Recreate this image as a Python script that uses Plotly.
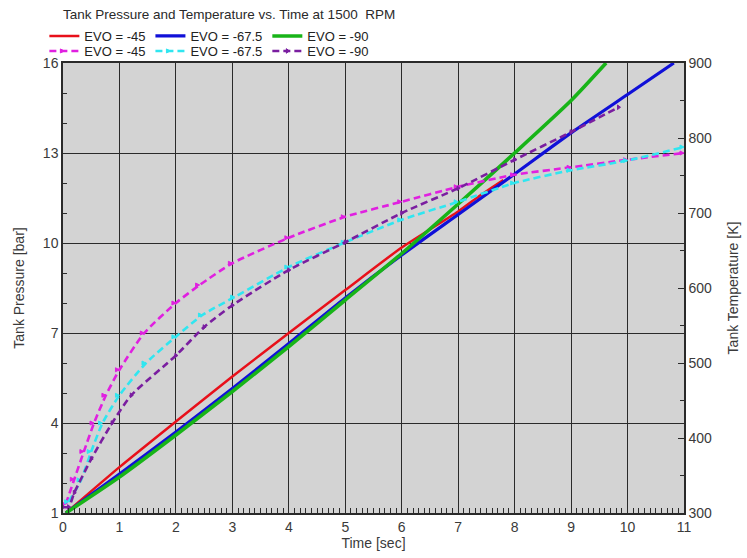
import plotly.graph_objects as go

# Tank pressure [bar] vs time [sec] for three exhaust valve opening angles
time_p45 = [0.05, 1, 2, 3, 4, 5, 6, 7, 7.4, 7.8]
pres_p45 = [1.0, 2.53, 4.05, 5.55, 7.0, 8.43, 9.85, 11.05, 11.6, 12.1]

time_p675 = [0.05, 1, 2, 3, 4, 5, 6, 7, 8, 9, 10, 10.82]
pres_p675 = [1.0, 2.3, 3.7, 5.15, 6.65, 8.17, 9.6, 10.95, 12.3, 13.67, 14.95, 16.0]

time_p90 = [0.05, 1, 2, 3, 4, 5, 6, 7, 8, 9, 9.62]
pres_p90 = [1.0, 2.2, 3.6, 5.05, 6.55, 8.1, 9.65, 11.3, 13.0, 14.75, 16.0]

# Tank temperature [K] vs time [sec]
time_t45 = [0.05, 0.2, 0.37, 0.55, 0.76, 1.0, 1.44, 2.0, 2.42, 3.0, 4, 5, 6, 7, 8, 9, 10, 11]
temp_t45 = [312, 345, 382, 420, 457, 491, 540, 580, 604, 633, 667, 695, 715, 735, 751, 761, 771, 780]

time_t675 = [0.1, 0.32, 0.5, 0.7, 1.0, 1.47, 2.0, 2.47, 3.04, 4, 5, 6, 7, 8, 9, 10, 11]
temp_t675 = [315, 344, 382, 420, 457, 500, 535, 564, 588, 628, 661, 691, 715, 740, 757, 770, 788]

time_t90 = [0.0, 0.1, 0.2, 0.5, 0.87, 1.21, 2.0, 2.5, 3.0, 4, 5, 6, 7, 8, 9, 9.84]
temp_t90 = [308, 308, 327, 372, 420, 457, 510, 548, 577, 624, 661, 700, 733, 771, 808, 841]

labels = ["EVO = -45", "EVO = -67.5", "EVO = -90"]
solid_colors = ["#e8101a", "#1010d8", "#18b418"]
dash_colors = ["#e020e0", "#30e6f0", "#7a1ea0"]
dash_symbols = ["arrow-right", "arrow-right", "triangle-right"]

fig = go.Figure()

pressure_sets = [(time_p45, pres_p45), (time_p675, pres_p675), (time_p90, pres_p90)]
widths = [2.5, 3.2, 3.6]
for (t, p), name, c, w in zip(pressure_sets, labels, solid_colors, widths):
    fig.add_trace(go.Scatter(
        x=t, y=p, name=name, mode="lines",
        line=dict(color=c, width=w, shape="spline", smoothing=0.6),
        legend="legend",
    ))

temp_sets = [(time_t45, temp_t45), (time_t675, temp_t675), (time_t90, temp_t90)]
for (t, T), name, c, s in zip(temp_sets, labels, dash_colors, dash_symbols):
    fig.add_trace(go.Scatter(
        x=t, y=T, name=name, mode="lines+markers", yaxis="y2",
        line=dict(color=c, width=2.6, dash="7px,4px", shape="spline", smoothing=0.6),
        marker=dict(symbol=s, size=4, color=c, line=dict(color=c, width=1)),
        legend="legend2",
    ))

axis_font = dict(family="Liberation Sans, Arial, sans-serif", size=14, color="#3a3a3a")
frame = "#2a2a2a"
legend_font = dict(family="Liberation Sans, Arial, sans-serif", size=13, color="#222")

fig.update_layout(
    width=747, height=558,
    margin=dict(l=63, r=63, t=63, b=45),
    paper_bgcolor="white",
    plot_bgcolor="#d3d3d3",
    font=dict(family="Liberation Sans, Arial, sans-serif", color="#333"),
    title=dict(
        text="Tank Pressure and Temperature vs. Time at 1500  RPM",
        x=63 / 747, xanchor="left", xref="container",
        y=1 - 14 / 558, yanchor="middle", yref="container",
        font=dict(size=13.5, color="#2a2a2a"),
    ),
    xaxis=dict(
        range=[0, 11], dtick=1, tick0=0, automargin=False,
        showgrid=True, gridcolor=frame, gridwidth=1.4,
        showline=True, linecolor=frame, linewidth=1.5, mirror=True,
        ticks="", tickfont=axis_font,
        minor=dict(dtick=0.1, ticks="inside", ticklen=5, tickcolor=frame, showgrid=False),
        title=dict(text="Time [sec]", font=axis_font, standoff=2),
        zeroline=False,
    ),
    yaxis=dict(
        range=[1, 16], dtick=3, tick0=1, automargin=False,
        showgrid=True, gridcolor=frame, gridwidth=1.4,
        showline=True, linecolor=frame, linewidth=1.5, mirror=True,
        ticks="inside", ticklen=5, tickcolor=frame, tickfont=axis_font,
        minor=dict(dtick=1, ticks="inside", ticklen=4, tickcolor=frame, showgrid=False),
        title=dict(text="Tank Pressure [bar]", font=axis_font, standoff=15),
        zeroline=False,
    ),
    yaxis2=dict(
        range=[300, 900], dtick=100, tick0=300, automargin=False,
        overlaying="y", side="right",
        showgrid=False, showline=True, linecolor=frame, linewidth=1.5,
        ticks="inside", ticklen=6, tickcolor=frame, tickfont=axis_font,
        minor=dict(dtick=50, ticks="inside", ticklen=4, tickcolor=frame),
        title=dict(text="Tank Temperature [K]", font=axis_font, standoff=17),
        zeroline=False,
    ),
    legend=dict(
        orientation="h", x=-0.03, xanchor="left", y=(513 - 36) / 450, yanchor="middle",
        font=legend_font, bgcolor="rgba(0,0,0,0)",
        itemwidth=30, tracegroupgap=0, traceorder="normal",
    ),
    legend2=dict(
        orientation="h", x=-0.03, xanchor="left", y=(513 - 51) / 450, yanchor="middle",
        font=legend_font, bgcolor="rgba(0,0,0,0)",
        itemwidth=30, tracegroupgap=0, traceorder="normal",
    ),
)

fig.write_html("out.html")
